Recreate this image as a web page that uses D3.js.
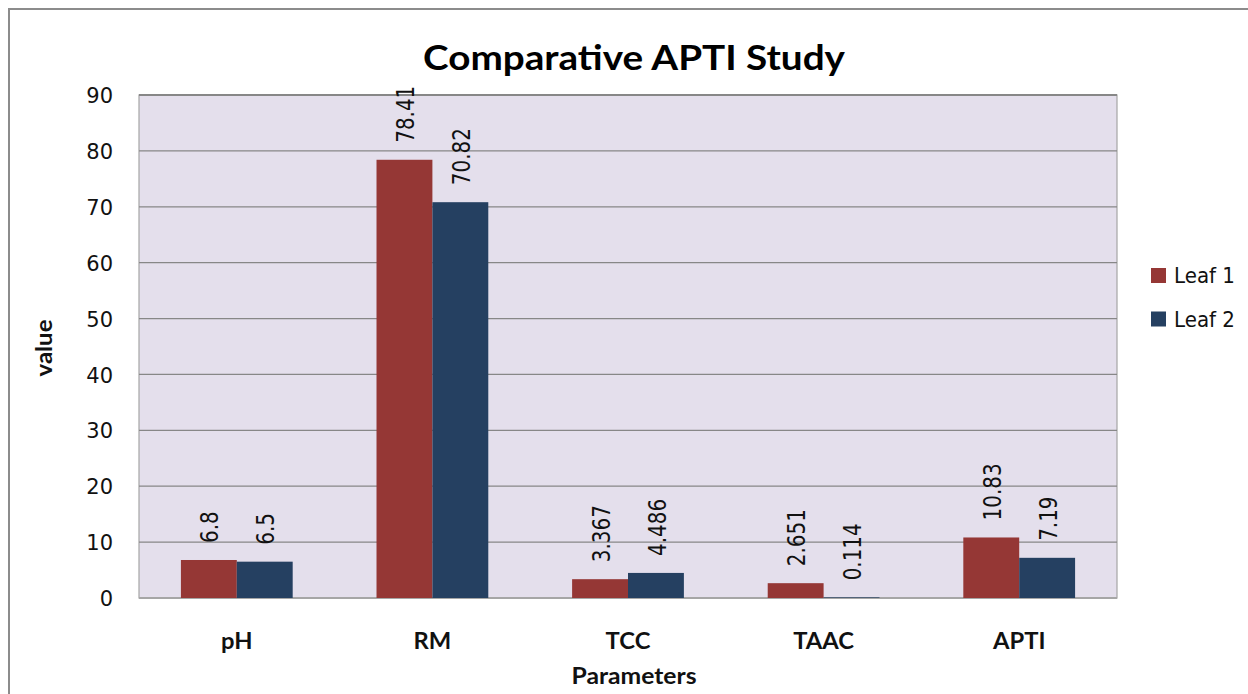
<!DOCTYPE html>
<html>
<head>
<meta charset="utf-8">
<script src="https://cdn.jsdelivr.net/npm/d3@7/dist/d3.min.js"></script>
<style>
  html, body { margin: 0; padding: 0; background: #fff; }
  svg { display: block; }
</style>
</head>
<body>
<svg id="chart" width="1248" height="694"></svg>
<script>
const categories = ["pH", "RM", "TCC", "TAAC", "APTI"];
const seriesNames = ["Leaf 1", "Leaf 2"];
const leaf1 = [6.8, 78.41, 3.367, 2.651, 10.83];
const leaf2 = [6.5, 70.82, 4.486, 0.114, 7.19];
const leaf1Labels = ["6.8", "78.41", "3.367", "2.651", "10.83"];
const leaf2Labels = ["6.5", "70.82", "4.486", "0.114", "7.19"];
const yTicks = [0, 10, 20, 30, 40, 50, 60, 70, 80, 90];
const colors = ["#953735", "#254061"];

const svg = d3.select("#chart");
const plot = { left: 139, top: 95, right: 1117, bottom: 598 };

function stretch(sel, factor) {
  sel.each(function () {
    const len = this.getComputedTextLength();
    d3.select(this).attr("textLength", len * factor).attr("lengthAdjust", "spacingAndGlyphs");
  });
}

// outer frame
svg.append("rect").attr("x", 9).attr("y", 9).attr("width", 1260).attr("height", 720)
  .attr("fill", "#fff").attr("stroke", "#8c8c8c").attr("stroke-width", 2);

const x0 = d3.scaleBand().domain(categories).range([plot.left, plot.right]).paddingInner(0).paddingOuter(0);
const x1 = d3.scaleBand().domain(seriesNames).range([0, x0.bandwidth()]).paddingInner(0).paddingOuter(0.75);
const y = d3.scaleLinear().domain([0, 90]).range([plot.bottom, plot.top]);

// plot background
svg.append("rect").attr("x", plot.left).attr("y", plot.top)
  .attr("width", plot.right - plot.left).attr("height", plot.bottom - plot.top)
  .attr("fill", "#e4dfec").attr("stroke", "#a6a6a6").attr("stroke-width", 1.2);

// gridlines
svg.append("g").selectAll("line").data(yTicks.filter(d => d > 0)).join("line")
  .attr("x1", plot.left).attr("x2", plot.right)
  .attr("y1", d => y(d)).attr("y2", d => y(d))
  .attr("stroke", "#878787").attr("stroke-width", d => d === 90 ? 2 : 1.2);

// y axis
const yAxis = d3.axisLeft(y).tickValues(yTicks).tickSize(0).tickPadding(0);
const yg = svg.append("g").attr("transform", `translate(${plot.left - 26},0)`).call(yAxis);
yg.select(".domain").remove();
yg.selectAll("text").attr("font-family", "DejaVu Sans, sans-serif").attr("font-size", 21)
  .attr("fill", "#111").attr("dy", "0.36em");

// x axis baseline
svg.append("line").attr("x1", plot.left).attr("x2", plot.right)
  .attr("y1", plot.bottom).attr("y2", plot.bottom).attr("stroke", "#a6a6a6").attr("stroke-width", 2);

// bars
const rows = categories.map((c, i) => ({ cat: c, vals: [leaf1[i], leaf2[i]], labels: [leaf1Labels[i], leaf2Labels[i]] }));
const groups = svg.append("g").selectAll("g").data(rows).join("g")
  .attr("transform", d => `translate(${x0(d.cat)},0)`);
groups.selectAll("rect").data(d => d.vals.map((v, j) => ({ s: seriesNames[j], v, j })))
  .join("rect")
  .attr("x", d => x1(d.s)).attr("width", x1.bandwidth())
  .attr("y", d => y(d.v)).attr("height", d => y(0) - y(d.v))
  .attr("fill", d => colors[d.j]);

// data labels (rotated)
groups.selectAll("text").data(d => d.vals.map((v, j) => ({ s: seriesNames[j], v, j, label: d.labels[j] })))
  .join("text")
  .attr("transform", d => `translate(${x1(d.s) + x1.bandwidth() / 2 + 1},${y(d.v) - 17}) rotate(-90)`)
  .attr("font-family", "DejaVu Sans, sans-serif").attr("font-size", 24).attr("fill", "#111")
  .attr("dy", "0.36em").attr("text-anchor", "start")
  .text(d => d.label)
  .call(stretch, 0.83);

// category labels
svg.append("g").selectAll("text").data(categories).join("text")
  .attr("x", d => x0(d) + x0.bandwidth() / 2).attr("y", 649)
  .attr("text-anchor", "middle").attr("font-family", "Lato, sans-serif").attr("font-weight", "bold")
  .attr("font-size", 22).attr("fill", "#111").text(d => d)
  .call(stretch, 1.08);

// title
svg.append("text").attr("x", 634).attr("y", 70).attr("text-anchor", "middle")
  .attr("font-family", "Lato, sans-serif").attr("font-weight", "bold").attr("font-size", 35)
  .attr("fill", "#000").text("Comparative APTI Study")
  .attr("textLength", 422).attr("lengthAdjust", "spacingAndGlyphs");

// axis titles
svg.append("text").attr("x", 634).attr("y", 684).attr("text-anchor", "middle")
  .attr("font-family", "Lato, sans-serif").attr("font-weight", "bold").attr("font-size", 22)
  .attr("fill", "#111").text("Parameters")
  .attr("textLength", 125).attr("lengthAdjust", "spacingAndGlyphs");
svg.append("text").attr("transform", "translate(52,348) rotate(-90)").attr("text-anchor", "middle")
  .attr("font-family", "Lato, sans-serif").attr("font-weight", "bold").attr("font-size", 22)
  .attr("fill", "#111").text("value")
  .attr("textLength", 57).attr("lengthAdjust", "spacingAndGlyphs");

// legend
const legend = svg.append("g").selectAll("g").data(seriesNames).join("g")
  .attr("transform", (d, i) => `translate(1151,${268 + i * 43.5})`);
legend.append("rect").attr("width", 15).attr("height", 15).attr("fill", (d, i) => colors[i]);
legend.append("text").attr("x", 23).attr("y", 15).attr("font-family", "DejaVu Sans, sans-serif")
  .attr("font-size", 21).attr("fill", "#111").text(d => d)
  .attr("textLength", 61).attr("lengthAdjust", "spacingAndGlyphs");
</script>
</body>
</html>
